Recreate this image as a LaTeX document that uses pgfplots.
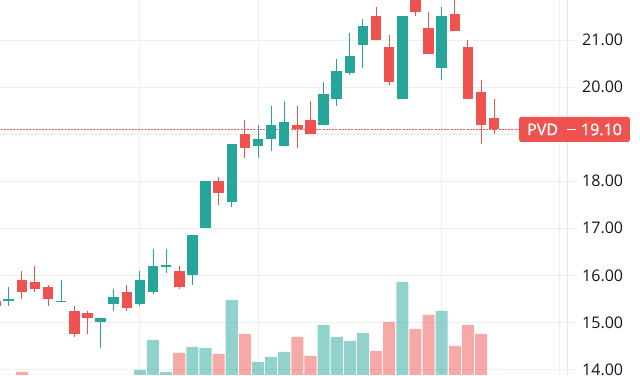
\documentclass[border=0pt]{standalone}
\usepackage{pgfplots}
\pgfplotsset{compat=1.18}
\usepackage{pgfplotstable}
\usepackage{fontspec}
\setmainfont{Open Sans}
\newfontfamily\labelfont[FakeBold=1.2]{Open Sans}
\definecolor{upc}{HTML}{26A69A}
\definecolor{dnc}{HTML}{EF5350}
\definecolor{gridc}{HTML}{EEEFF2}
\definecolor{sepc}{HTML}{E4E6EB}
\definecolor{txt}{HTML}{131722}

% up (teal) candles: index, open, high, low, close
\pgfplotstableread{
x o h l c
0 15.45 15.75 15.35 15.50
4 15.45 15.90 15.45 15.45
7 15.00 15.10 14.45 15.10
8 15.40 15.70 15.25 15.55
10 15.40 16.10 15.35 15.90
11 15.65 16.55 15.60 16.20
12 16.20 16.55 16.05 16.20
14 16.00 16.85 15.80 16.85
15 17.00 18.00 17.00 18.00
17 17.55 18.80 17.45 18.80
19 18.75 19.20 18.50 18.90
20 18.90 19.60 18.65 19.20
21 18.75 19.70 18.75 19.25
24 19.20 20.10 19.20 19.85
25 19.75 20.60 19.60 20.35
26 20.30 21.15 20.25 20.65
27 20.90 21.45 20.40 21.30
30 19.75 21.50 19.75 21.50
33 20.40 21.70 20.15 21.50
}\upcandles

% down (red) candles: index, open, high, low, close
\pgfplotstableread{
x o h l c
-1 15.45 15.50 15.30 15.35
1 15.90 16.10 15.50 15.65
2 15.85 16.20 15.65 15.70
3 15.75 15.80 15.35 15.50
5 15.25 15.35 14.70 14.75
6 15.20 15.25 14.75 15.10
9 15.65 15.80 15.25 15.30
13 16.10 16.20 15.70 15.75
16 18.00 18.10 17.50 17.75
18 19.00 19.30 18.50 18.70
22 19.20 19.60 18.70 19.10
23 19.30 19.70 19.00 19.00
28 21.50 21.70 21.00 21.00
29 20.85 21.10 20.05 20.10
31 21.90 22.00 21.50 21.60
32 21.25 21.60 20.70 20.70
34 21.55 21.85 21.20 21.20
35 20.85 21.00 19.75 19.75
36 19.90 20.15 18.80 19.20
37 19.35 19.75 19.00 19.10
}\downcandles

% volume (millions) on up days
\pgfplotstableread{
x v
0 1.8
4 1.5
7 2.0
8 2.2
10 3.0
11 6.0
12 2.8
14 5.3
15 5.2
17 10.0
19 3.8
20 4.3
21 4.8
24 7.5
25 6.3
26 5.9
27 6.7
30 11.8
33 8.9
}\upvol

% volume (millions) on down days
\pgfplotstableread{
x v
-1 1.6
1 2.8
2 2.0
3 1.7
5 2.3
6 1.9
9 2.1
13 4.7
16 4.6
18 6.6
22 6.3
23 4.4
28 4.9
29 7.8
31 7.1
32 8.5
34 5.4
35 7.5
36 6.6
37 1.2
}\downvol

% last price line: from, to, price
\pgfplotstableread{
x0 x1 p
-1 43 19.10
}\lastprice

\pgfplotsset{
  candle/.style n args={2}{only marks, mark=*, mark options={draw opacity=0, fill opacity=0},
    error bars/.cd, y dir=both, y explicit, error mark=none,
    error bar style={line width=#2, draw=#1, solid}},
}

\begin{document}
\begin{tikzpicture}
\useasboundingbox (0,0) rectangle (640pt,375pt);
% price pane
\begin{axis}[
  at={(0,0)}, anchor=south west, scale only axis,
  width=567pt, height=375pt,
  xmin=-0.663, xmax=42.55, ymin=13.883, ymax=21.85,
  axis x line*=bottom, axis y line*=right,
  x axis line style={draw=none},
  y axis line style={draw=sepc, line width=1pt},
  xtick={10,19,33,42}, xticklabels={},
  xtick style={draw=none},
  xmajorgrids, ymajorgrids,
  grid style={draw=gridc, line width=1pt},
  ytick={14,15,16,17,18,19,20,21},
  yticklabels={14.00,15.00,16.00,17.00,18.00,,20.00,21.00},
  tick align=outside, major tick length=8pt,
  ytick style={draw=gridc, line width=1pt},
  yticklabel style={font=\fontsize{16}{19}\selectfont, text=txt, anchor=west, inner sep=0pt, xshift=7pt},
  clip mode=individual,
]
% last price line (dotted)
\addplot[only marks, mark=*, mark options={draw opacity=0, fill opacity=0},
  error bars/.cd, x dir=both, x explicit, error mark=none,
  error bar style={line width=1.2pt, draw=dnc, dash pattern=on 2pt off 1.2pt}]
  table[x expr={(\thisrow{x0}+\thisrow{x1})/2}, y=p, x error expr={(\thisrow{x1}-\thisrow{x0})/2}] {\lastprice};
% wicks
\addplot[candle={upc}{1pt}]
  table[x=x, y expr={(\thisrow{h}+\thisrow{l})/2}, y error expr={(\thisrow{h}-\thisrow{l})/2}] {\upcandles};
\addplot[candle={dnc}{1pt}]
  table[x=x, y expr={(\thisrow{h}+\thisrow{l})/2}, y error expr={(\thisrow{h}-\thisrow{l})/2}] {\downcandles};
% bodies
\addplot[candle={upc}{10.5pt}]
  table[x=x, y expr={(\thisrow{o}+\thisrow{c})/2}, y error expr={max(abs(\thisrow{c}-\thisrow{o})/2,0.012)}] {\upcandles};
\addplot[candle={dnc}{10.5pt}]
  table[x=x, y expr={(\thisrow{o}+\thisrow{c})/2}, y error expr={max(abs(\thisrow{c}-\thisrow{o})/2,0.012)}] {\downcandles};
\coordinate (pvd) at (axis cs:42.55,19.10);
\end{axis}
% volume pane (overlay)
\begin{axis}[
  at={(0,0)}, anchor=south west, scale only axis,
  width=567pt, height=375pt,
  xmin=-0.663, xmax=42.55, ymin=2.5, ymax=40,
  hide axis, ybar, bar width=0.92,
]
\addplot[bar shift=0pt, fill=upc, fill opacity=0.5, draw=none] table[x=x, y=v] {\upvol};
\addplot[bar shift=0pt, fill=dnc, fill opacity=0.5, draw=none] table[x=x, y=v] {\downvol};
\end{axis}
% last price label
\node[fill=dnc, rounded corners=2pt, text=white, anchor=west, minimum height=25pt,
  inner xsep=8pt, inner ysep=0pt, font=\labelfont\fontsize{16}{19}\selectfont]
  at ([xshift=-48pt]pvd) {PVD\hspace{9pt}\raisebox{0pt}{\rule[5.2pt]{9pt}{1.2pt}}\hspace{5pt}19.10};
\end{tikzpicture}
\end{document}
